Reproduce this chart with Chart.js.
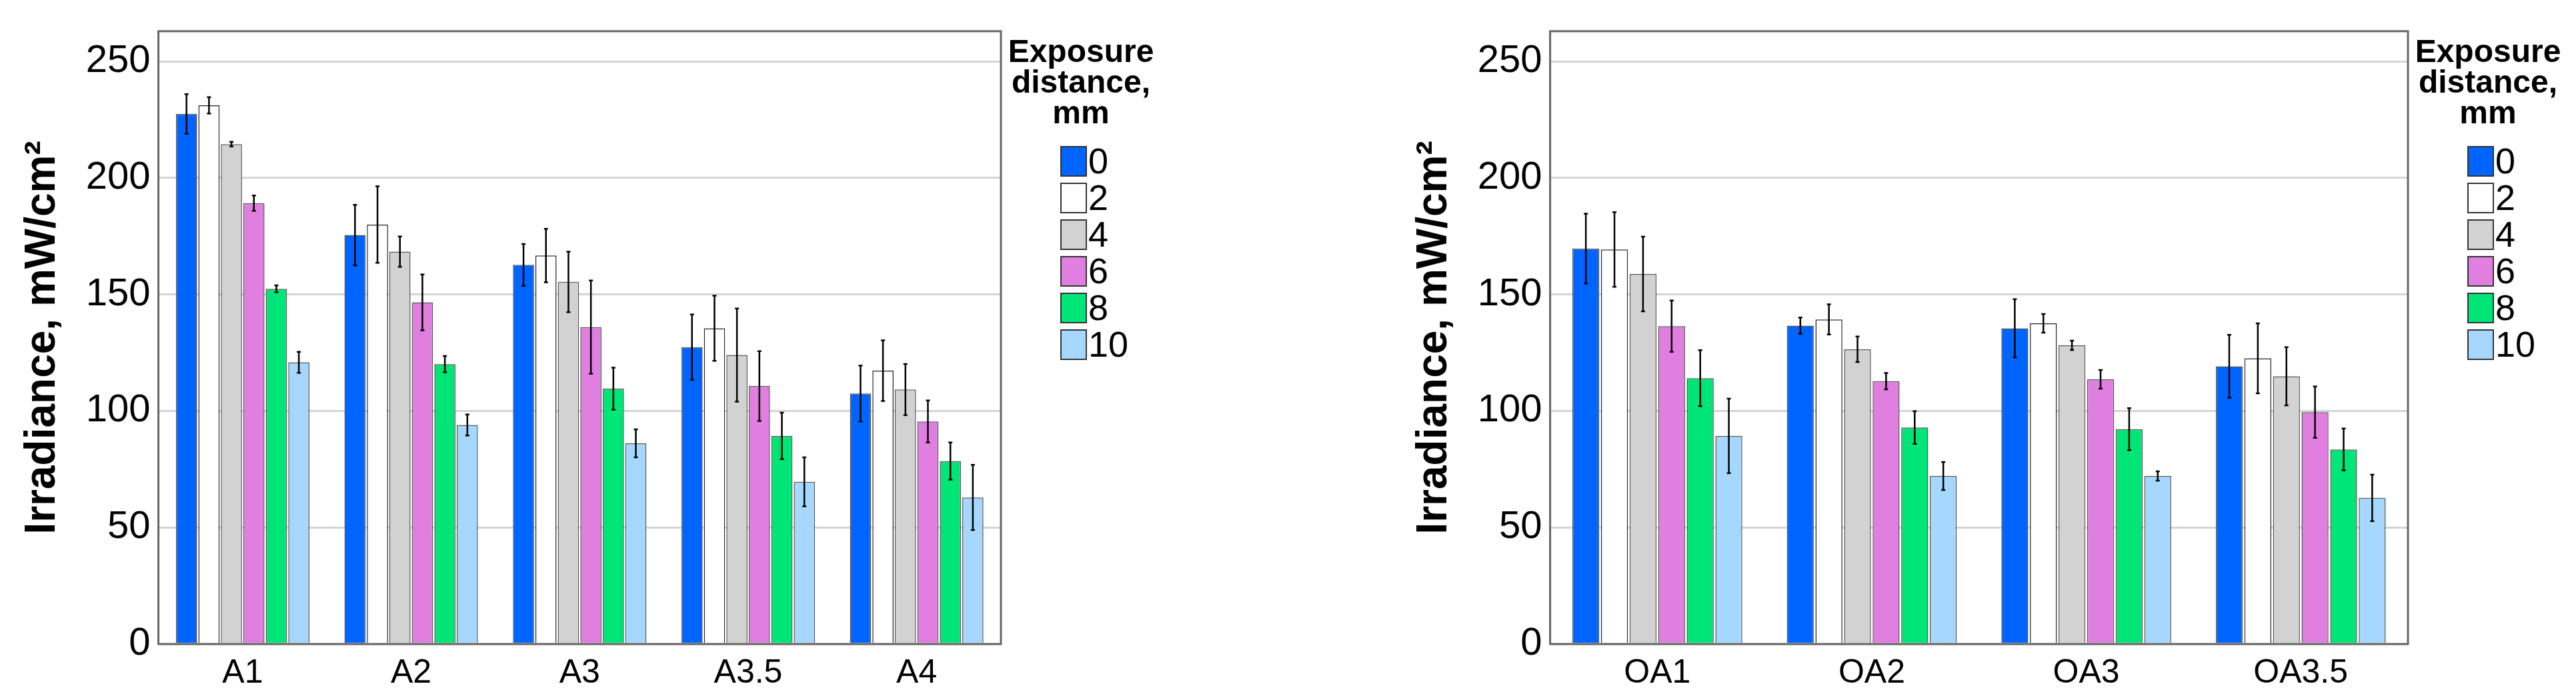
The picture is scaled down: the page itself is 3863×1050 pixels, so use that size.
<!DOCTYPE html>
<html>
<head>
<meta charset="utf-8">
<script src="https://cdn.jsdelivr.net/npm/chart.js@4"></script>
<style>
body{margin:0;background:#fff;}
#wrap{display:flex;width:3863px;height:1050px;}
.box{position:relative;width:1931px;height:1050px;}
</style>
</head>
<body>
<div id="wrap">
<div class="box"><canvas id="chartA"></canvas></div>
<div class="box"><canvas id="chartB"></canvas></div>
</div>
<script>
var distances = ["0", "2", "4", "6", "8", "10"];
var barColors = ["#0064ff", "#ffffff", "#d2d2d2", "#e07fe0", "#00e676", "#a6d8ff"];

var groupsA = ["A1", "A2", "A3", "A3.5", "A4"];
var valuesA = [
  [227.5, 175.5, 162.7, 127.4, 107.5],
  [231.2, 180.0, 166.7, 135.5, 117.3],
  [214.5, 168.4, 155.4, 124.0, 109.2],
  [189.2, 146.6, 136.0, 110.7, 95.5],
  [152.4, 120.1, 109.6, 89.3, 78.5],
  [120.9, 94.0, 86.1, 69.6, 62.9]
];
var errorsA = [
  [8.5, 13, 9, 14, 12],
  [3.5, 16.4, 11.5, 14, 13],
  [1, 6.5, 13, 20, 11],
  [3.3, 12, 20, 15, 9],
  [1.5, 3.5, 9, 10, 8],
  [4.5, 4.5, 6, 10.5, 14]
];

var groupsB = ["OA1", "OA2", "OA3", "OA3.5"];
var valuesB = [
  [169.7, 136.6, 135.5, 119.2],
  [169.3, 139.3, 137.6, 122.6],
  [158.8, 126.5, 128.2, 114.9],
  [136.4, 112.8, 113.6, 99.5],
  [114.1, 92.9, 92.2, 83.5],
  [89.3, 72.1, 72.1, 62.7]
];
var errorsB = [
  [15, 3.5, 12.5, 13.5],
  [16, 6.5, 4, 15],
  [16, 5.5, 2, 12.5],
  [11, 3.5, 4, 11],
  [12, 7, 9, 9],
  [16, 6, 2, 10]
];

var yTicks = [0, 50, 100, 150, 200, 250];
var tickFont = "'Liberation Sans Narrow', 'Liberation Sans', Arial, sans-serif";

// error bars + frame + legend, all drawn after the bars
var extras = {
  id: "extras",
  afterDatasetsDraw: function (chart, args, opts) {
    var ctx = chart.ctx, y = chart.scales.y, a = chart.chartArea;
    ctx.save();
    ctx.strokeStyle = "#000";
    ctx.lineWidth = 2.5;
    chart.data.datasets.forEach(function (ds, i) {
      var meta = chart.getDatasetMeta(i);
      meta.data.forEach(function (bar, j) {
        var v = ds.data[j], e = opts.errors[i][j];
        var yt = y.getPixelForValue(v + e), yb = y.getPixelForValue(v - e);
        ctx.beginPath();
        ctx.moveTo(bar.x, yt); ctx.lineTo(bar.x, yb);
        ctx.moveTo(bar.x - 3, yt); ctx.lineTo(bar.x + 3, yt);
        ctx.moveTo(bar.x - 3, yb); ctx.lineTo(bar.x + 3, yb);
        ctx.stroke();
      });
    });
    // frame
    ctx.strokeStyle = "#666";
    ctx.lineWidth = 3;
    ctx.strokeRect(a.left, a.top, a.right - a.left, a.bottom - a.top);
    // legend
    var lx = a.right + 120, ly = 80;
    ctx.fillStyle = "#000";
    ctx.textAlign = "center";
    ctx.textBaseline = "middle";
    ctx.font = "bold 48px " + tickFont;
    ["Exposure", "distance,", "mm"].forEach(function (t, k) {
      ctx.fillText(t, lx, ly + k * 46);
    });
    ctx.textAlign = "left";
    ctx.font = "54px " + tickFont;
    distances.forEach(function (d, k) {
      var by = 242 + k * 55;
      ctx.fillStyle = barColors[k];
      ctx.fillRect(a.right + 90, by - 22, 38, 44);
      ctx.strokeStyle = "#333";
      ctx.lineWidth = 2;
      ctx.strokeRect(a.right + 90, by - 22, 38, 44);
      ctx.fillStyle = "#000";
      ctx.fillText(d, a.right + 131, by + 3);
    });
    ctx.restore();
  }
};

function make_chart(id, groups, values, errors, padLeft, padRight) {
  var datasets = distances.map(function (d, i) {
    return {
      label: d,
      data: values[i],
      backgroundColor: barColors[i],
      borderColor: i == 1 ? "#222" : "#555",
      borderWidth: 1.5,
      categoryPercentage: 0.8,
      barPercentage: 0.94
    };
  });
  new Chart(id, {
    type: "bar",
    data: { labels: groups, datasets: datasets },
    plugins: [extras],
    options: {
      responsive: true,
      maintainAspectRatio: false,
      animation: false,
      layout: { padding: { left: padLeft, right: padRight, top: 30, bottom: 4 } },
      plugins: {
        legend: { display: false },
        tooltip: { enabled: false },
        extras: { errors: errors }
      },
      scales: {
        x: {
          grid: { display: false },
          border: { display: false },
          ticks: { color: "#000", font: { family: tickFont, size: 50 }, padding: 6 }
        },
        y: {
          min: 0,
          max: 263,
          afterBuildTicks: function (axis) {
            axis.ticks = yTicks.map(function (v) { return { value: v }; });
          },
          grid: { color: "#d4d4d4", lineWidth: 3, drawTicks: false },
          border: { display: false },
          ticks: { color: "#000", font: { family: tickFont, size: 58 }, padding: 12 },
          title: {
            display: true,
            text: "Irradiance, mW/cm²",
            color: "#000",
            font: { family: "'Liberation Sans', Arial, sans-serif", size: 64, weight: "bold" },
            padding: { bottom: 14 }
          }
        }
      }
    }
  });
}

make_chart("chartA", groupsA, valuesA, errorsA, 22, 430);
make_chart("chartB", groupsB, valuesB, errorsB, 178, 251);
</script>
</body>
</html>
